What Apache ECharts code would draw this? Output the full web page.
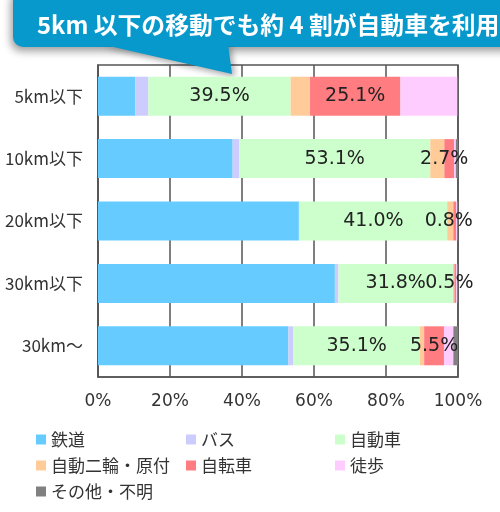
<!DOCTYPE html>
<html>
<head>
<meta charset="UTF-8">
<title></title>
<style>
  html, body { margin: 0; padding: 0; background: #fff; }
  #chart { width: 500px; height: 512px; }
</style>
<script src="https://cdn.jsdelivr.net/npm/echarts@6/dist/echarts.min.js"></script>
</head>
<body>
<div id="chart"></div>
<script>
// 距離帯
var categories = ['5km以下', '10km以下', '20km以下', '30km以下', '30km〜'];
// 代表交通手段の構成比（%）
var rail  = [10.4, 37.4, 55.8, 65.8, 52.9];
var bus   = [3.6, 1.8, 0.2, 1.0, 1.4];
var car   = [39.5, 53.1, 41.0, 31.8, 35.1];
var moto  = [5.4, 3.9, 1.7, 0.4, 1.2];
var bike  = [25.1, 2.7, 0.8, 0.5, 5.5];
var walk  = [15.8, 0.5, 0.3, 0.3, 2.6];
var other = [0.2, 0.6, 0.2, 0.2, 1.3];
var xTicks = [0, 20, 40, 60, 80, 100];

var names = ['鉄道', 'バス', '自動車', '自動二輪・原付', '自転車', '徒歩', 'その他・不明'];
var colors = ['#66CCFF', '#CCCCFF', '#CCFFCC', '#FFCC99', '#FF7C80', '#FFCCFF', '#808080'];
var values = [rail, bus, car, moto, bike, walk, other];

var chart = echarts.init(document.getElementById('chart'));

var labelFont = { fontFamily: 'DejaVu Sans', fontSize: 19, color: '#222' };
var bikeShift = [0, -5, -6, -6, 0];

var series = names.map(function (n, i) {
  var s = {
    name: n,
    type: 'bar',
    stack: 'all',
    barWidth: 39,
    itemStyle: { color: colors[i] },
    data: values[i].slice()
  };
  if (n === '自動車') {
    s.label = Object.assign({ show: true, position: 'inside', formatter: function (p) { return p.value.toFixed(1) + '%'; } }, labelFont);
  }
  if (n === '自転車') {
    s.data = values[i].map(function (v, k) {
      return { value: v, label: { offset: [bikeShift[k], 0] } };
    });
    s.label = Object.assign({ show: true, position: 'inside', formatter: function (p) { return p.value.toFixed(1) + '%'; } }, labelFont);
  }
  return s;
});

var legendText = { fontFamily: 'Noto Sans CJK JP', fontSize: 17, color: '#333' };
function legendCol(items, left) {
  return {
    data: items,
    orient: 'vertical',
    left: left,
    top: 431,
    padding: 0,
    itemGap: 9,
    itemWidth: 10,
    itemHeight: 10,
    icon: 'rect',
    textStyle: legendText,
    selectedMode: false
  };
}

var option = {
  animation: false,
  color: colors,
  grid: {
    left: 98, right: 42, top: 65, bottom: 135,
    outerBoundsMode: 'none',
    show: true, borderColor: '#555', borderWidth: 1.5, backgroundColor: 'transparent'
  },
  legend: [
    legendCol(['鉄道', '自動二輪・原付', 'その他・不明'], 36),
    legendCol(['バス', '自転車'], 186),
    legendCol(['自動車', '徒歩'], 335)
  ],
  xAxis: {
    type: 'value',
    min: xTicks[0],
    max: xTicks[xTicks.length - 1],
    interval: 20,
    axisLine: { show: true, lineStyle: { color: '#555', width: 1.5 } },
    axisTick: { show: false },
    splitLine: { show: true, lineStyle: { color: '#555', width: 1.5 } },
    axisLabel: { formatter: '{value}%', margin: 16, fontFamily: 'DejaVu Sans', fontSize: 17, color: '#333' }
  },
  yAxis: {
    type: 'category',
    inverse: true,
    data: categories,
    axisLine: { show: true, lineStyle: { color: '#555', width: 1.5 } },
    axisTick: { show: false },
    axisLabel: { margin: 15, fontFamily: 'Noto Sans CJK JP', fontSize: 17, color: '#333' }
  },
  graphic: [
    {
      type: 'group',
      z: 100,
      children: [
        {
          type: 'rect',
          shape: { x: 13, y: -12, width: 520, height: 59, r: 10 },
          style: { fill: '#0899CC', shadowBlur: 8, shadowOffsetX: -2, shadowOffsetY: 4, shadowColor: 'rgba(0,0,0,0.4)' }
        },
        {
          type: 'polygon',
          shape: { points: [[100, 44], [228, 44], [232, 74]] },
          style: { fill: '#0899CC', shadowBlur: 6, shadowOffsetX: 3, shadowOffsetY: 3, shadowColor: 'rgba(0,0,0,0.35)' }
        },
        {
          type: 'rect',
          shape: { x: 60, y: 20, width: 200, height: 26 },
          style: { fill: '#0899CC' }
        },
        {
          type: 'text',
          x: 37,
          y: 25,
          style: {
            text: '5km 以下の移動でも約 4 割が自動車を利用',
            fill: '#fff',
            fontFamily: 'Noto Sans CJK JP',
            fontWeight: 'bold',
            fontSize: 23.8,
            verticalAlign: 'middle'
          }
        }
      ]
    }
  ],
  series: series
};

chart.setOption(option);
</script>
</body>
</html>
